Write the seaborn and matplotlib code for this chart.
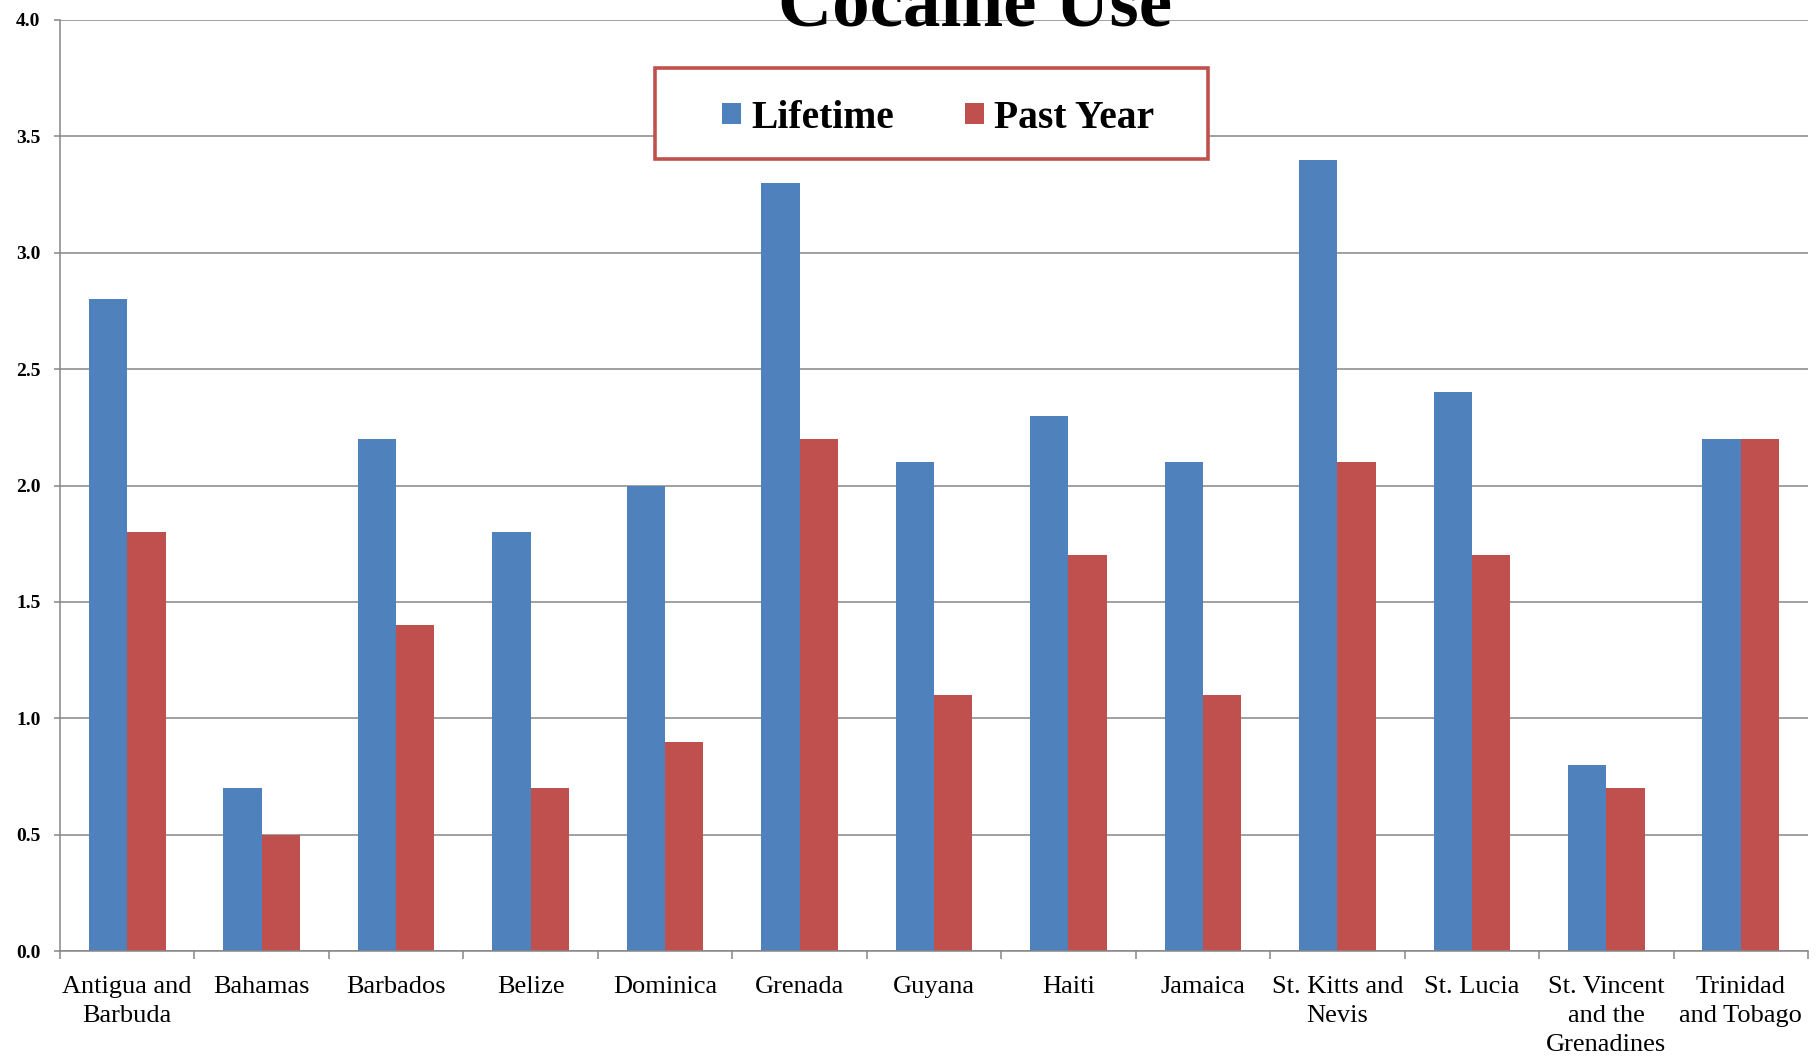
import numpy as np
import pandas as pd
import matplotlib
matplotlib.use("Agg")
import matplotlib.pyplot as plt
import seaborn as sns
from matplotlib.patches import Rectangle, Patch

# Data
countries = [
    "Antigua and\nBarbuda", "Bahamas", "Barbados", "Belize", "Dominica",
    "Grenada", "Guyana", "Haiti", "Jamaica", "St. Kitts and\nNevis",
    "St. Lucia", "St. Vincent\nand the\nGrenadines", "Trinidad\nand Tobago",
]
lifetime = [2.8, 0.7, 2.2, 1.8, 2.0, 3.3, 2.1, 2.3, 2.1, 3.4, 2.4, 0.8, 2.2]
past_year = [1.8, 0.5, 1.4, 0.7, 0.9, 2.2, 1.1, 1.7, 1.1, 2.1, 1.7, 0.7, 2.2]
series_names = ["Lifetime", "Past Year"]
series_colors = ["#4F81BD", "#C0504D"]
y_ticks = [0.0, 0.5, 1.0, 1.5, 2.0, 2.5, 3.0, 3.5, 4.0]
title = "Cocaine Use"

sns.set_theme(style="white")
plt.rcParams["font.family"] = ["Liberation Serif", "DejaVu Serif"]
plt.rcParams["text.color"] = "black"
plt.rcParams["xtick.labelcolor"] = "black"
plt.rcParams["ytick.labelcolor"] = "black"

W, H = 1818, 1057
fig = plt.figure(figsize=(W / 100, H / 100), dpi=100)
ax = fig.add_axes([60 / W, 1 - 951 / H, 1748 / W, 931 / H])

df = pd.DataFrame({
    "Country": countries * 2,
    "Rate": lifetime + past_year,
    "Series": [series_names[0]] * len(countries) + [series_names[1]] * len(countries),
})
sns.barplot(data=df, x="Country", y="Rate", hue="Series", palette=series_colors,
            width=0.57, saturation=1, errorbar=None, legend=False,
            edgecolor="none", ax=ax)

grid_col = "#868686"
ax.set_xlim(-0.5, len(countries) - 0.5)
ax.set_ylim(0, 4)
ax.set_xlabel("")
ax.set_ylabel("")

ax.set_yticks(y_ticks)
ax.set_yticklabels([f"{v:.1f}" for v in y_ticks], fontweight="bold", fontsize=14,
                   color="black")
ax.yaxis.grid(True, color=grid_col, lw=1.1)
ax.set_axisbelow(True)
ax.tick_params(axis="y", left=True, length=4, width=1.1, color=grid_col, pad=10)

ax.set_xticks(range(len(countries)))
ax.set_xticklabels(countries, fontsize=19, color="black")
for t in ax.get_xticklabels():
    t.set_linespacing(1.42)
    t.set_multialignment("center")
ax.tick_params(axis="x", which="major", bottom=False, length=0, pad=18)
ax.set_xticks(np.arange(-0.5, len(countries), 1), minor=True)
ax.tick_params(axis="x", which="minor", bottom=True, length=6, width=1.1, color=grid_col)

for side in ["top", "right"]:
    ax.spines[side].set_visible(False)
for side in ["left", "bottom"]:
    ax.spines[side].set_color(grid_col)
    ax.spines[side].set_linewidth(1.1)

# Title
fig.text(975 / W, 1 - 26 / H, title, ha="center", va="baseline",
         fontsize=54, fontweight="bold", color="black")

# Legend box and entries
box = Rectangle((655 / W, 1 - 159 / H), 553 / W, 91 / H, transform=fig.transFigure,
                facecolor="white", edgecolor="#C0504D", lw=2.6, zorder=5)
fig.add_artist(box)
handles = [Patch(facecolor=c, edgecolor="none", label=n)
           for n, c in zip(series_names, series_colors)]
leg = fig.legend(handles=handles, loc="center", bbox_to_anchor=(938 / W, 1 - 118 / H),
                 ncol=2, frameon=False, prop={"weight": "bold", "size": 28.5},
                 handlelength=0.47, handleheight=0.47, handletextpad=0.26,
                 columnspacing=1.8, labelcolor="black")
leg.set_zorder(6)

fig.savefig("out.png", dpi=100)
